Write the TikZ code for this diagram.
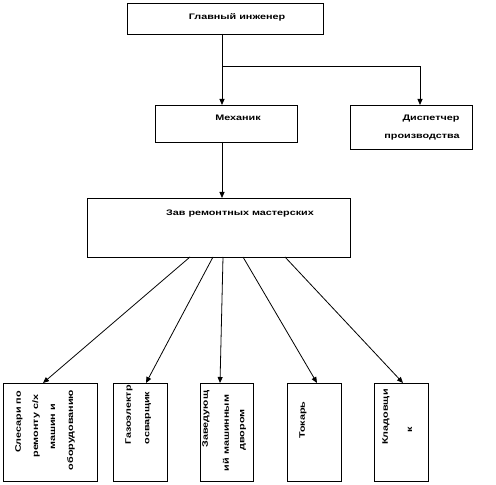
\documentclass[tikz,border=0pt]{standalone}
\usepackage{fontspec}
\setmainfont{Liberation Sans}
\usetikzlibrary{arrows.meta,calc}
\newcommand{\sx}[1]{\scalebox{1.35}[1]{#1}}
\tikzset{
  boxst/.style={draw, line width=0.9pt, inner sep=0pt, outer sep=0pt},
  lbl/.style={font=\fontsize{8}{9}\selectfont\bfseries, inner sep=0pt},
  vlbl/.style={lbl, rotate=90},
  arr/.style={line width=0.8pt, -{Triangle[length=6pt,width=5pt]}},
  ln/.style={line width=0.8pt}
}
\begin{document}
\begin{tikzpicture}[x=1pt,y=1pt]
\fill[white] (0,0) rectangle (496,485);
\useasboundingbox (0,0) rectangle (496,485);
% boxes
\node[boxst, minimum width=196pt, minimum height=31pt] (top) at (225,466.5) {};
\node[boxst, minimum width=142pt, minimum height=37pt] (mech) at (226,361.5) {};
\node[boxst, minimum width=122pt, minimum height=44pt] (disp) at (411,358) {};
\node[boxst, minimum width=263pt, minimum height=59pt] (zav) at (218.5,257.5) {};
\node[boxst, minimum width=94pt, minimum height=98pt] (b1) at (50,53) {};
\node[boxst, minimum width=54pt, minimum height=98pt] (b2) at (140,53) {};
\node[boxst, minimum width=53pt, minimum height=98pt] (b3) at (226.5,53) {};
\node[boxst, minimum width=54pt, minimum height=98pt] (b4) at (314,53) {};
\node[boxst, minimum width=54pt, minimum height=98pt] (b5) at (401,53) {};
% labels
\node[lbl] (ltop) at (237,468) {\sx{Главный инженер}};
\node[lbl] (lmech) at (238,367) {\sx{Механик}};
\node[lbl] (ldispa) at (431,366) {\sx{Диспетчер}};
\node[lbl] (ldispb) at (422,348) {\sx{производства}};
\node[lbl] (lzav) at (240,271) {\sx{Зав ремонтных мастерских}};
\node[vlbl] (l1a) at (19,63) {\sx{Слесари по}};
\node[vlbl] (l1b) at (36,59) {\sx{ремонту с/х}};
\node[vlbl] (l1c) at (53,58) {\sx{машин и}};
\node[vlbl] (l1d) at (71,55) {\sx{оборудованию}};
\node[vlbl] (l2a) at (129,70) {\sx{Газоэлектр}};
\node[vlbl] (l2b) at (148,67) {\sx{осварщик}};
\node[vlbl] (l3a) at (206,66) {\sx{Заведующ}};
\node[vlbl] (l3b) at (226,52) {\sx{ий машинным}};
\node[vlbl] (l3c) at (243,55) {\sx{двором}};
\node[vlbl] (l4a) at (303,65) {\sx{Токарь}};
\node[vlbl] (l5a) at (386,68) {\sx{Кладовщи}};
\node[vlbl] (l5b) at (410,55) {\sx{к}};
% connectors
\coordinate (br) at (222,419);
\draw[arr] ($(top.south west)+(95,0)$) -- ($(mech.north west)+(67,0)$);
\draw[arr] (br) -| ($(disp.north west)+(70,0)$);
\draw[arr] ($(mech.south west)+(67,0)$) -- ($(zav.north west)+(135,0)$);
\draw[arr] ($(zav.south west)+(103,0)$) -- ($(b1.north west)+(40,0)$);
\draw[arr] ($(zav.south west)+(126,0)$) -- ($(b2.north west)+(33,0)$);
\draw[arr] ($(zav.south west)+(136,0)$) -- ($(b3.north west)+(20,0)$);
\draw[arr] ($(zav.south west)+(156,0)$) -- ($(b4.north west)+(30,0)$);
\draw[arr] ($(zav.south west)+(198,0)$) -- ($(b5.north west)+(29,0)$);
\end{tikzpicture}
\end{document}
